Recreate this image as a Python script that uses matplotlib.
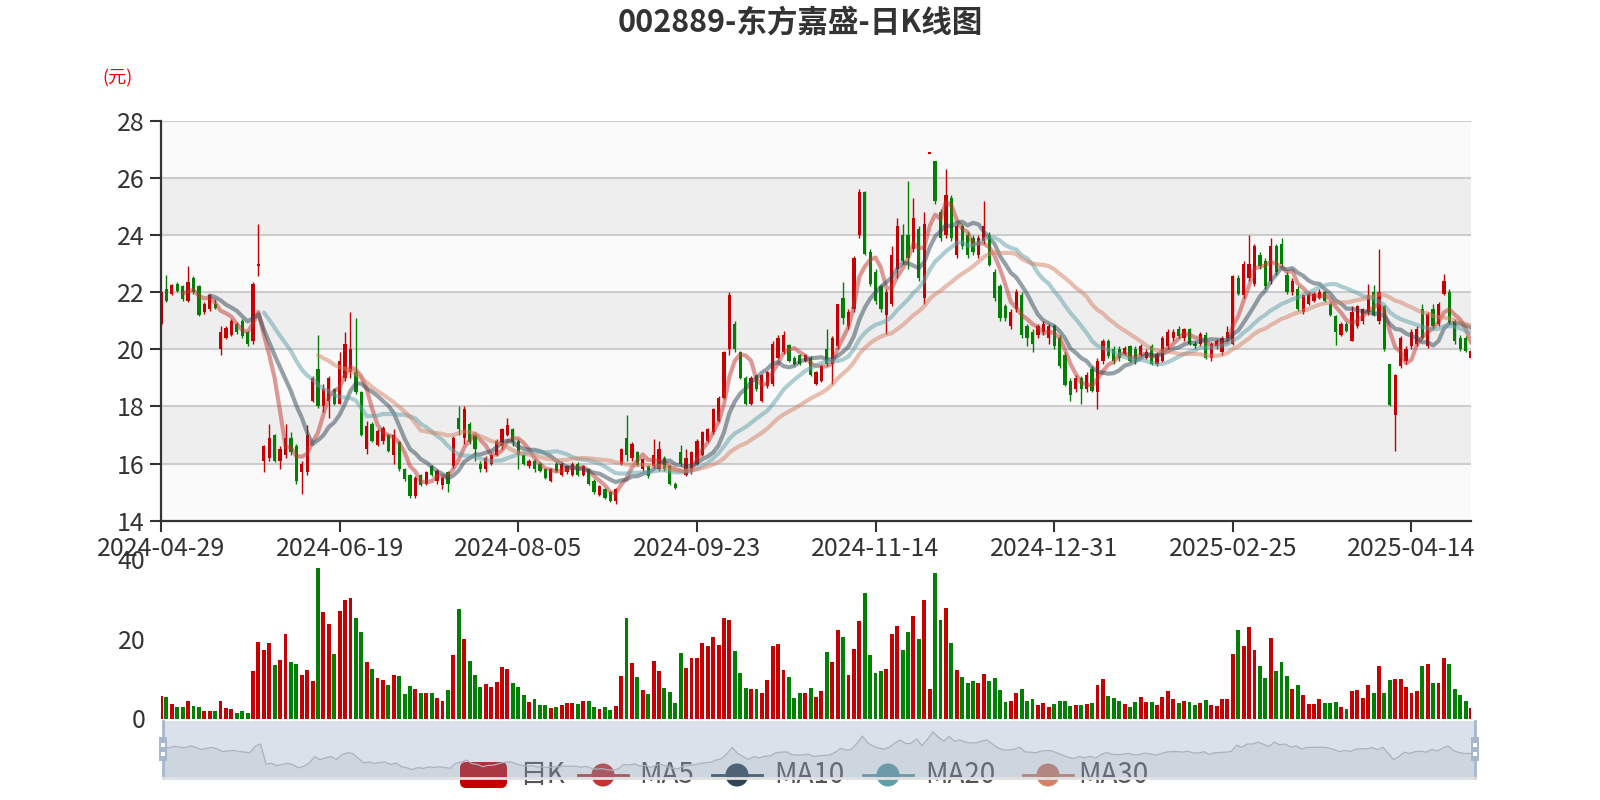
import numpy as np
import pandas as pd
import matplotlib
matplotlib.use("Agg")
import matplotlib.pyplot as plt
from matplotlib.patches import Rectangle, FancyBboxPatch, Circle

plt.rcParams['font.family'] = ['Noto Sans CJK SC', 'DejaVu Sans']

title = "002889-东方嘉盛-日K线图"
tick_dates = ['2024-04-29', '2024-06-19', '2024-08-05', '2024-09-23',
              '2024-11-14', '2024-12-31', '2025-02-25', '2025-04-14']
tick_every = 33

open_p = [
    20.9, 22.1, 21.95, 22.3, 22.2, 21.7, 22.5, 22.2, 21.3, 21.4,
    21.6, 20.0, 20.4, 20.5, 20.9, 21.0, 20.6, 20.3, 22.9, 16.1,
    16.2, 17.0, 16.1, 16.3, 16.9, 16.6, 15.7, 15.7, 18.2, 19.3,
    18.0, 18.2, 18.6, 18.1, 19.0, 19.2, 19.2, 18.5, 16.5, 17.4,
    16.65, 16.8, 17.0, 16.3, 16.75, 15.8, 15.6, 14.85, 15.6, 15.3,
    15.9, 15.4, 15.25, 15.7, 15.9, 17.6, 16.9, 17.4, 17.0, 16.0,
    15.8, 16.0, 16.3, 16.6, 17.0, 17.2, 16.8, 16.3, 15.9, 16.1,
    16.0, 15.8, 15.4, 16.0, 15.6, 15.7, 15.6, 16.0, 15.6, 15.8,
    15.4, 14.9, 15.1, 15.0, 14.7, 16.0, 16.9, 16.2, 16.4, 15.8,
    15.9, 15.9, 15.8, 16.2, 15.9, 15.3, 16.4, 15.6, 15.7, 16.0,
    16.3, 16.8, 17.1, 17.5, 18.3, 20.0, 20.9, 19.9, 19.0, 18.1,
    19.1, 18.2, 18.7, 18.8, 19.7, 19.9, 20.15, 19.7, 19.8, 19.6,
    19.7, 18.8, 18.9, 20.0, 19.5, 20.1, 21.8, 20.8, 21.4, 24.0,
    25.5, 23.4, 22.7, 22.2, 21.2, 21.6, 22.8, 24.0, 24.0, 23.5,
    24.2, 21.8, 26.85, 26.6, 24.8, 24.0, 25.3, 23.3, 24.3, 24.0,
    23.9, 23.3, 23.8, 24.0, 22.7, 22.2, 21.5, 20.8, 21.4, 21.9,
    20.8, 20.6, 20.5, 20.6, 20.4, 20.8, 20.4, 19.8, 18.9, 18.6,
    19.0, 18.6, 19.3, 18.5, 19.6, 20.3, 20.0, 20.0, 19.85, 20.1,
    20.0, 19.8, 19.7, 20.1, 19.5, 19.6, 20.1, 20.4, 20.7, 20.4,
    20.7, 20.2, 20.2, 20.5, 19.7, 20.1, 19.9, 20.4, 20.2, 22.5,
    21.9, 22.5, 22.3, 23.3, 23.1, 22.4, 23.6, 23.7, 22.6, 22.0,
    22.1, 21.3, 21.6, 21.7, 21.8, 22.0, 21.6, 21.15, 20.5, 20.9,
    20.3, 20.8, 21.0, 21.3, 22.0, 21.0, 21.5, 19.5, 17.7, 19.4,
    19.6, 20.1, 20.2, 21.4, 20.1, 21.4, 20.9, 21.95, 22.0, 21.0,
    20.4, 20.4, 19.7,
]

close_p = [
    22.0, 21.7, 22.25, 22.05, 21.75, 22.35, 22.0, 21.2, 21.6, 21.9,
    21.45, 20.6, 20.75, 21.0, 20.6, 20.45, 20.2, 22.3, 23.0, 16.6,
    16.9, 16.1, 16.5, 16.9, 16.4, 15.4, 16.0, 17.0, 19.0, 18.0,
    18.6, 19.0, 18.1, 19.6, 20.2, 20.0, 18.5, 17.0, 17.3, 16.8,
    17.15, 17.25, 16.45, 17.0, 15.8, 15.45, 14.85, 15.5, 15.25, 15.7,
    15.6, 15.75, 15.5, 15.3, 16.9, 17.2, 17.9, 16.75, 16.5, 15.8,
    16.2, 16.3, 16.8, 17.2, 17.35, 16.75, 16.3, 16.0, 16.1, 15.8,
    15.75, 15.5, 15.8, 15.75, 16.0, 15.9, 16.0, 15.6, 15.9, 15.3,
    15.0, 15.2, 14.8, 14.7, 15.1, 16.5, 16.3, 16.7, 15.95, 16.15,
    15.55, 16.3, 16.5, 15.8, 15.3, 15.15, 16.0, 16.2, 16.4, 16.8,
    17.1, 17.2, 17.9, 18.3, 19.9, 21.9, 20.0, 19.0, 18.1, 19.0,
    18.6, 19.1, 19.2, 20.2, 20.4, 20.5, 19.6, 19.5, 19.5, 19.8,
    19.1, 19.2, 19.4, 19.5, 20.4, 21.6, 21.1, 21.3, 23.2, 25.5,
    23.35, 22.3, 21.7, 21.4, 22.0, 23.3, 24.3, 23.1, 23.2, 24.6,
    22.5, 24.4, 26.85, 25.2, 23.9, 25.4, 23.9, 24.3, 23.6, 23.3,
    23.4, 23.9, 24.3, 22.95, 21.8, 21.1, 21.1, 21.3, 22.0, 20.5,
    20.4, 20.2, 20.8, 20.9, 20.8, 20.1, 19.4, 18.75, 18.4, 19.0,
    18.6, 19.1, 18.55, 19.6, 20.3, 19.75, 19.6, 19.7, 20.05, 19.6,
    19.6, 20.1, 19.9, 19.5, 19.85, 20.4, 20.6, 20.6, 20.45, 20.7,
    20.2, 20.1, 20.55, 19.7, 20.2, 20.3, 20.4, 20.6, 22.55, 21.95,
    23.0, 23.0, 23.6, 22.9, 22.2, 23.6, 22.7, 23.0, 22.0, 22.4,
    21.4, 21.9, 21.95, 21.95, 22.0, 21.7, 21.2, 20.6, 20.9, 20.65,
    21.3, 21.5, 21.4, 21.9, 21.2, 22.0, 20.0, 18.05, 19.1, 20.4,
    20.0, 20.6, 20.7, 20.4, 21.25, 20.8, 21.6, 22.4, 20.95, 20.3,
    20.0, 19.95, 19.95,
]

high_p = [
    22.05, 22.6, 22.3, 22.35, 22.25, 22.9, 22.55, 22.25, 21.65, 21.95,
    21.75, 20.8, 20.8, 21.05, 20.95, 21.05, 20.65, 22.35, 24.4, 16.65,
    17.4, 17.05, 16.6, 17.4, 17.1, 16.7, 16.1, 17.35, 19.05, 20.5,
    18.8, 19.05, 18.65, 19.9, 20.6, 21.3, 21.1, 18.55, 17.5, 17.45,
    17.2, 17.3, 17.05, 17.2, 16.8, 15.85, 15.65, 15.55, 15.65, 15.75,
    15.95, 15.8, 15.55, 15.75, 16.95, 18.0, 18.0, 17.45, 17.05, 16.1,
    16.25, 16.35, 16.85, 17.25, 17.6, 17.25, 16.85, 16.35, 16.15, 16.15,
    16.05, 15.85, 15.85, 16.05, 16.05, 15.95, 16.05, 16.05, 15.95, 15.85,
    15.45, 15.25, 15.15, 15.05, 15.15, 16.55, 17.7, 16.75, 16.45, 16.2,
    15.95, 16.85, 16.8, 16.25, 15.95, 15.35, 16.65, 16.5, 16.45, 16.85,
    17.15, 17.25, 17.95, 18.35, 19.95, 22.0, 21.0, 19.95, 19.05, 19.05,
    19.1, 19.15, 19.25, 20.3, 20.5, 20.65, 20.2, 19.75, 19.85, 19.85,
    19.75, 19.25, 19.45, 20.7, 20.45, 21.6, 22.35, 21.4, 23.25, 25.6,
    25.55, 23.5, 22.8, 22.3, 22.1, 23.6, 24.6, 24.4, 25.9, 25.3,
    24.3, 24.8, 26.85, 26.6, 24.9, 26.3, 25.4, 24.4, 24.4, 24.1,
    24.0, 24.0, 25.2, 24.1, 22.8, 22.3, 21.6, 21.4, 22.1, 22.0,
    20.9, 20.7, 20.9, 21.0, 20.9, 20.9, 20.5, 19.9, 19.0, 19.1,
    19.05, 19.2, 19.4, 19.7, 20.35, 20.35, 20.1, 20.1, 20.1, 20.15,
    20.1, 20.2, 20.0, 20.2, 19.9, 20.45, 20.7, 20.7, 20.8, 20.75,
    20.75, 20.3, 20.6, 20.6, 20.25, 20.35, 20.45, 20.8, 22.6, 22.6,
    23.1, 24.0, 23.7, 23.4, 23.2, 23.9, 23.7, 23.9, 22.7, 22.5,
    22.2, 21.95, 22.0, 22.0, 22.1, 22.05, 21.65, 21.2, 20.95, 20.95,
    21.5, 21.55, 21.45, 22.3, 22.25, 23.5, 21.55, 19.5, 19.15, 20.45,
    20.1, 20.7, 20.8, 21.6, 21.3, 21.6, 21.65, 22.65, 22.1, 21.05,
    20.5, 20.45, 20.0,
]

low_p = [
    20.8, 21.65, 21.9, 22.0, 21.7, 21.65, 21.95, 21.15, 21.25, 21.35,
    21.4, 19.8, 20.35, 20.45, 20.55, 20.4, 20.1, 20.2, 22.55, 15.7,
    16.1, 16.05, 15.8, 16.2, 16.3, 15.3, 14.95, 15.6, 18.15, 17.95,
    17.8, 17.6, 18.05, 18.1, 18.9, 19.0, 18.45, 16.95, 16.35, 16.75,
    16.6, 16.7, 16.4, 16.0, 15.75, 15.4, 14.8, 14.8, 15.2, 15.25,
    15.55, 15.3, 15.1, 15.0, 15.85, 17.0, 16.7, 16.7, 16.1, 15.7,
    15.7, 15.95, 16.25, 16.5, 16.95, 16.6, 15.8, 15.95, 15.85, 15.7,
    15.7, 15.45, 15.35, 15.7, 15.55, 15.65, 15.55, 15.55, 15.55, 15.25,
    14.95, 14.85, 14.75, 14.65, 14.6, 15.95, 16.1, 16.1, 15.9, 15.75,
    15.5, 15.85, 15.75, 15.75, 15.25, 15.1, 15.9, 15.55, 15.65, 15.95,
    16.25, 16.75, 17.05, 17.45, 18.25, 19.8, 19.9, 18.95, 18.05, 18.05,
    18.55, 18.15, 18.65, 18.7, 19.65, 19.85, 19.55, 19.45, 19.45, 19.55,
    19.05, 18.75, 18.85, 19.4, 18.8, 20.0, 20.9, 20.7, 21.3, 23.9,
    23.3, 22.2, 21.6, 21.3, 20.55, 21.5, 22.5, 23.0, 22.8, 23.4,
    22.4, 21.6, 26.85, 25.1, 23.8, 23.9, 23.8, 23.2, 23.5, 23.2,
    23.3, 23.2, 23.7, 22.9, 21.7, 21.0, 21.0, 20.7, 21.3, 20.4,
    20.1, 19.9, 20.4, 20.5, 20.2, 20.0, 19.35, 18.7, 18.2, 18.5,
    18.1, 18.5, 18.5, 17.9, 19.5, 19.7, 19.5, 19.6, 19.8, 19.55,
    19.5, 19.75, 19.65, 19.45, 19.4, 19.55, 20.0, 20.3, 20.4, 20.3,
    20.15, 20.0, 20.1, 19.65, 19.6, 20.0, 19.8, 20.3, 20.15, 21.9,
    21.8, 22.4, 22.2, 22.8, 22.1, 22.3, 22.6, 22.9, 21.95, 21.9,
    21.35, 21.25, 21.55, 21.65, 21.75, 21.65, 21.15, 20.15, 20.45, 20.6,
    20.3, 20.75, 20.9, 21.2, 21.15, 20.9, 19.95, 18.0, 16.45, 19.35,
    19.5, 20.0, 20.1, 20.35, 20.05, 20.7, 20.8, 21.9, 20.9, 20.2,
    19.95, 19.9, 19.65,
]

volume = [
    5.6, 5.3, 3.7, 3.0, 2.8, 4.4, 3.2, 2.8, 2.0, 2.0,
    1.9, 4.4, 2.6, 2.3, 1.5, 1.8, 1.5, 11.9, 19.2, 17.1,
    19.0, 13.4, 14.7, 21.1, 14.1, 13.7, 10.9, 12.1, 9.3, 37.7,
    26.7, 23.6, 16.3, 27.0, 29.8, 30.1, 25.1, 21.6, 14.2, 12.4,
    10.2, 9.6, 8.4, 10.9, 10.7, 6.2, 8.1, 7.3, 6.5, 6.5,
    6.5, 5.1, 4.4, 7.1, 16.0, 27.5, 20.0, 14.4, 10.9, 7.8,
    8.6, 7.8, 9.2, 12.9, 12.5, 9.0, 8.0, 5.8, 4.2, 4.8,
    3.5, 3.5, 2.7, 3.0, 3.5, 3.8, 3.8, 3.6, 4.4, 4.4,
    3.0, 2.3, 3.0, 2.2, 3.1, 10.7, 25.2, 13.8, 10.4, 7.1,
    6.2, 14.5, 12.0, 7.7, 6.7, 3.9, 16.4, 12.7, 15.2, 15.2,
    19.0, 18.2, 20.4, 18.4, 25.1, 24.8, 16.9, 11.3, 7.6, 7.4,
    7.3, 6.5, 9.7, 18.1, 18.6, 12.1, 10.3, 5.2, 6.4, 6.4,
    7.6, 5.4, 6.8, 16.8, 14.1, 22.3, 20.4, 10.8, 17.5, 24.4,
    31.5, 15.8, 11.3, 11.9, 12.5, 21.2, 23.1, 17.2, 21.8, 25.6,
    20.0, 29.8, 7.3, 36.5, 24.7, 27.6, 18.9, 12.1, 10.4, 8.8,
    9.4, 8.9, 11.2, 9.5, 10.2, 7.2, 4.1, 4.3, 6.5, 7.3,
    4.3, 4.8, 3.3, 3.8, 2.9, 3.7, 4.4, 4.4, 3.2, 3.3,
    3.5, 3.7, 3.8, 8.3, 9.9, 5.7, 5.2, 4.4, 3.7, 3.0,
    4.2, 5.4, 4.1, 4.1, 3.3, 5.4, 6.8, 4.9, 3.9, 4.4,
    4.2, 3.3, 3.8, 4.7, 3.4, 3.1, 4.8, 4.9, 16.1, 22.1,
    18.3, 23.0, 17.1, 13.1, 10.2, 20.3, 11.9, 14.1, 10.7, 7.3,
    8.4, 5.9, 3.7, 3.7, 4.9, 4.0, 4.0, 4.2, 2.9, 2.4,
    6.9, 7.2, 5.1, 8.5, 6.5, 13.1, 6.5, 9.6, 9.8, 10.0,
    7.8, 6.4, 6.9, 13.2, 13.6, 9.0, 9.0, 15.1, 13.6, 7.3,
    6.0, 4.4, 2.7,
]

ma_windows = [5, 10, 20, 30]
ma_names = ['MA5', 'MA10', 'MA20', 'MA30']
ma_colors = ['#c23531', '#2f4554', '#61a0a8', '#d48265']

UP = '#c40000'
DOWN = '#008000'
TXT = '#333333'

o = np.array(open_p)
c = np.array(close_p)
h = np.array(high_p)
l = np.array(low_p)
v = np.array(volume)
n = len(c)
x = np.arange(n)
col = np.where(c >= o, UP, DOWN)

W, H = 1600, 800
fig = plt.figure(figsize=(16, 8), dpi=100)

def box(l_, t_, r_, b_):
    return [l_ / W, 1 - b_ / H, (r_ - l_) / W, (b_ - t_) / H]

# main candlestick panel
ax = fig.add_axes(box(161, 120.7, 1471, 520.7))
for k, lo in enumerate(range(14, 28, 2)):
    ax.axhspan(lo, lo + 2, color='#fafafa' if k % 2 == 0 else '#eeeeee', lw=0, zorder=0)
for yv in range(16, 29, 2):
    ax.axhline(yv, color='#cccccc', lw=1.5, zorder=1)

ax.vlines(x, l, h, colors=col, lw=1.0, zorder=3)
body = np.maximum(np.abs(c - o), 0.05)
ax.bar(x, body, bottom=np.minimum(o, c), width=0.6, color=col, lw=0, zorder=4)

cs = pd.Series(c)
for w, name, mc in zip(ma_windows, ma_names, ma_colors):
    ax.plot(x, cs.rolling(w).mean(), color=mc, lw=3, alpha=0.5, zorder=5,
            solid_capstyle='round', solid_joinstyle='round')

ax.set_xlim(0, n - 1)
ax.set_ylim(14, 28)
ax.set_yticks(range(14, 29, 2))
ax.set_xticks(np.arange(len(tick_dates)) * tick_every)
ax.set_xticklabels(tick_dates)
for s in ['top', 'right']:
    ax.spines[s].set_visible(False)
for s in ['left', 'bottom']:
    ax.spines[s].set_color(TXT)
    ax.spines[s].set_linewidth(1.6)
    ax.spines[s].set_zorder(6)
ax.tick_params(axis='both', length=8, width=1.5, color=TXT, labelsize=18, labelcolor=TXT)
ax.tick_params(axis='y', pad=4)
ax.tick_params(axis='x', pad=3)
fig.text(117.5 / W, 1 - 78 / H, '(元)', color='red', fontsize=13, ha='center', va='center')

# volume panel
axv = fig.add_axes(box(161, 559, 1471, 718.5))
axv.bar(x, v, width=0.72, color=col, lw=0)
axv.set_xlim(0, n - 1)
axv.set_ylim(0, 40)
axv.set_yticks([0, 20, 40])
axv.set_xticks([])
for s in axv.spines.values():
    s.set_visible(False)
axv.tick_params(axis='y', length=0, labelsize=18, labelcolor=TXT, pad=11)
axv.patch.set_alpha(0)

# legend, drawn under the zoom slider
lg = fig.add_axes([0, 0, 1, 1], zorder=1)
lg.set_xlim(0, W)
lg.set_ylim(H, 0)
lg.axis('off')
lg.add_patch(FancyBboxPatch((460, 762), 47, 26, boxstyle='round,pad=0,rounding_size=6',
                            fc=UP, ec='none'))
lg.text(519, 775, '日K', fontsize=20, color='#555555', va='center', ha='left')
icon_x = [603, 737, 888, 1048]
text_x = [639, 774, 925, 1078]
for ix, tx, name, mc in zip(icon_x, text_x, ma_names, ma_colors):
    lg.plot([ix - 25, ix + 25], [775, 775], color=mc, lw=2)
    lg.add_patch(Circle((ix, 775), 11.5, fc=mc, ec='none'))
    lg.text(tx, 775, name, fontsize=20, color='#555555', va='center', ha='left')

# data zoom slider
axs = fig.add_axes(box(163, 721, 1475, 778), zorder=2)
axs.patch.set_facecolor((0.53, 0.61, 0.73, 0.30))
axs.fill_between(x, c, 12.2, color=(0.45, 0.50, 0.58, 0.12), lw=0)
axs.plot(x, c, color='#aab2be', lw=0.9)
axs.set_xlim(0, n - 1)
axs.set_ylim(12.2, 30.3)
axs.set_xticks([])
axs.set_yticks([])
for s in axs.spines.values():
    s.set_visible(False)
axs.plot([0, 0], [0, 1], transform=axs.transAxes, color='#a7b7cc', lw=2, clip_on=False)
axs.plot([1, 1], [0, 1], transform=axs.transAxes, color='#a7b7cc', lw=2, clip_on=False)
axs.plot([0, 1], [0, 0], transform=axs.transAxes, color='#e0e0e0', lw=2, clip_on=False)
hw = 8 / 1312
for hx in [0, 1]:
    axs.add_patch(Rectangle((hx - hw / 2, 0.3), hw, 0.42, transform=axs.transAxes,
                            fc='#a7b7cc', ec='none', clip_on=False, zorder=5))
    for hy in [0.42, 0.58]:
        axs.add_patch(Rectangle((hx - 0.0012, hy - 0.03), 0.0024, 0.06, transform=axs.transAxes,
                                fc='white', ec='none', clip_on=False, zorder=6))

fig.text(0.5, 1 - 23 / H, title, fontsize=22, fontweight='bold', color=TXT,
         ha='center', va='center')

fig.savefig('out.png', dpi=100, facecolor='white')
